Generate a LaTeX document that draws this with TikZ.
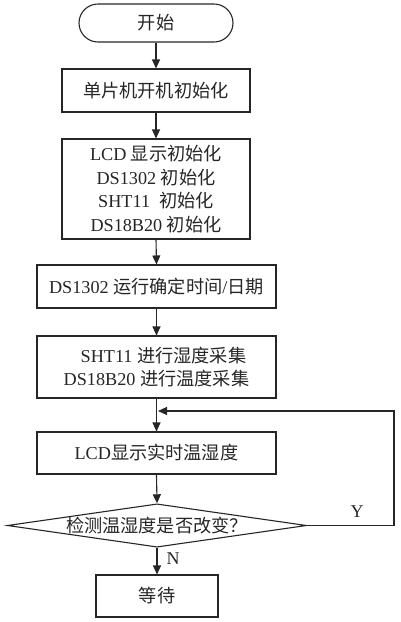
\documentclass[tikz,border=0pt]{standalone}
\usepackage{fontspec}
\setmainfont{Liberation Serif}
\newfontfamily\cjk{Noto Sans CJK SC}
\newcommand\zh[1]{{\cjk #1}}
\usetikzlibrary{shapes.geometric,arrows.meta}
\tikzset{
  base/.style={draw=black!85, line width=1.1pt, inner sep=0pt, align=center,
    text=black!85, font=\fontsize{18.2}{23.5}\selectfont},
  term/.style={base, rounded corners=19pt, minimum width=154pt, minimum height=38pt},
  box/.style={base, minimum height=43pt},
  decision/.style={base, diamond, aspect=6.9, minimum width=296pt, minimum height=43pt},
  conn/.style={line width=1.1pt, draw=black!85, -{Triangle[length=9pt,width=8pt]}},
  lbl/.style={text=black!85, font=\fontsize{18}{20}\selectfont}
}
\begin{document}
\begin{tikzpicture}[x=1pt,y=-1pt]
\useasboundingbox (0,0) rectangle (400,622);
\node[term] (start) at (156,23) {\zh{开始}};
\node[box, minimum width=188pt] (init) at (156,90.5) {\zh{单片机开机初始化}};
\node[box, minimum width=188pt, minimum height=100pt] (dev) at (156,189)
  {LCD \zh{显示初始化}\\ DS1302 \zh{初始化}\\ SHT11\ \ \zh{初始化}\\ DS18B20 \zh{初始化}};
\node[box, minimum width=239pt] (rtc) at (156.5,286.5) {DS1302 \zh{运行确定时间}/\zh{日期}};
\node[box, minimum width=239pt, minimum height=62pt] (acq) at (156.5,367)
  {\hspace*{14pt}SHT11 \zh{进行湿度采集}\\ DS18B20 \zh{进行温度采集}};
\node[box, minimum width=239pt, minimum height=42pt] (lcd) at (156.5,453) {LCD\zh{显示实时温湿度}};
\node[decision] (dec) at (157,525.5) {\zh{检测温湿度是否改变？}};
\node[box, minimum width=122pt, minimum height=42pt] (wait) at (157,596) {\zh{等待}};
\coordinate (join) at (157,411);
\coordinate (rc) at (394,525.5);
\coordinate (rt) at (394,411);
\node[lbl] (ylbl) at (357,512) {Y};
\node[lbl] (nlbl) at (173,559) {N};
\draw[conn] (start.south) -- (init.north);
\draw[conn] (init.south) -- (dev.north);
\draw[conn] (dev.south) -- (rtc.north);
\draw[conn] (rtc.south) -- (acq.north);
\draw[conn] (acq.south) -- (lcd.north);
\draw[conn] (lcd.south) -- (dec.north);
\draw[conn] (dec.south) -- (wait.north);
\draw[conn] (dec.east) -- (rc) -- (rt) -- ([xshift=1pt]join);
\end{tikzpicture}
\end{document}
